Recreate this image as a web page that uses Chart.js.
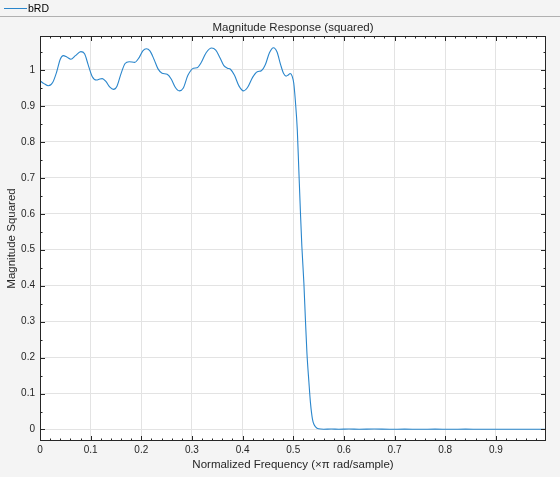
<!DOCTYPE html>
<html>
<head>
<meta charset="utf-8">
<script src="https://cdn.jsdelivr.net/npm/chart.js@4.4.1/dist/chart.umd.min.js"></script>
<style>
  html, body { margin: 0; padding: 0; background: #f4f4f4; }
  #wrap { position: relative; width: 560px; height: 477px; overflow: hidden; }
  #legend { position: absolute; left: 0; top: 0; width: 560px; height: 17px; border-bottom: 1px solid #b0b0b0; box-sizing: border-box; }
  #legend .sw { position: absolute; left: 4px; top: 8px; width: 23px; height: 0; border-top: 1px solid #2a86cc; }
  #legend .lb { position: absolute; left: 28px; top: 1px; font: 10.5px "Liberation Sans", Arial, sans-serif; color: #000; line-height: 14px; }
  canvas { position: absolute; left: 0; top: 0; }
</style>
</head>
<body>
<div id="wrap">
  <canvas id="c" width="560" height="477"></canvas>
  <div id="legend"><div class="sw"></div><div class="lb">bRD</div></div>
</div>
<script>
// ---- data ----
const seriesName = 'bRD';
const freq = [
  0, 0.008, 0.0165, 0.025, 0.033, 0.040, 0.046, 0.053, 0.061, 0.070, 0.0806, 0.088, 0.095,
  0.103, 0.1115, 0.118, 0.123, 0.130, 0.138, 0.145, 0.152, 0.160, 0.168, 0.176, 0.187,
  0.196, 0.203, 0.210, 0.217, 0.225, 0.233, 0.241, 0.251, 0.259, 0.267, 0.275, 0.283,
  0.292, 0.303, 0.310, 0.318, 0.328, 0.339, 0.347, 0.355, 0.363, 0.370, 0.376, 0.384,
  0.393, 0.402, 0.410, 0.420, 0.429, 0.437, 0.445, 0.453, 0.461, 0.468, 0.475, 0.481,
  0.486, 0.490, 0.494, 0.498, 0.501, 0.504, 0.508, 0.511, 0.514, 0.517, 0.521, 0.524,
  0.527, 0.531, 0.534, 0.538, 0.541, 0.544, 0.550, 0.560, 0.575, 0.590, 0.610, 0.630,
  0.660, 0.690, 0.720, 0.750, 0.780, 0.810, 0.840, 0.870, 0.900, 0.930, 0.960, 0.999
];
const magSq = [
  0.970, 0.962, 0.956, 0.965, 0.995, 1.030, 1.040, 1.036, 1.030, 1.040, 1.051, 1.045, 1.015,
  0.982, 0.972, 0.975, 0.976, 0.968, 0.952, 0.946, 0.955, 0.990, 1.018, 1.023, 1.021,
  1.035, 1.053, 1.059, 1.053, 1.030, 1.003, 0.991, 0.988, 0.975, 0.952, 0.942, 0.950,
  0.985, 1.005, 1.006, 1.020, 1.048, 1.061, 1.055, 1.035, 1.012, 1.005, 1.002, 0.985,
  0.955, 0.942, 0.952, 0.980, 0.995, 0.998, 1.015, 1.048, 1.062, 1.050, 1.015, 0.990,
  0.983, 0.986, 0.990, 0.982, 0.963, 0.917, 0.833, 0.722, 0.611, 0.509, 0.407, 0.306,
  0.213, 0.130, 0.074, 0.028, 0.014, 0.0075, 0.002, 0.0008, 0.0015, 0.0008, 0.0014, 0.0007,
  0.0012, 0.0006, 0.0011, 0.0006, 0.0010, 0.0005, 0.0009, 0.0005, 0.0008, 0.0005, 0.0007, 0.0005
];
const xTickValues = [0, 0.1, 0.2, 0.3, 0.4, 0.5, 0.6, 0.7, 0.8, 0.9];
const xTickLabels = ['0', '0.1', '0.2', '0.3', '0.4', '0.5', '0.6', '0.7', '0.8', '0.9'];
const yTickValues = [0, 0.1, 0.2, 0.3, 0.4, 0.5, 0.6, 0.7, 0.8, 0.9, 1];
const yTickLabels = ['0', '0.1', '0.2', '0.3', '0.4', '0.5', '0.6', '0.7', '0.8', '0.9', '1'];
const titleText = 'Magnitude Response (squared)';
const xTitle = 'Normalized Frequency (\u00d7\u03c0 rad/sample)';
const yTitle = 'Magnitude Squared';

// ---- styles ----
const FONT = '"Liberation Sans", Arial, sans-serif';
const AXIS = '#262626';
const GRID = '#e3e3e3';
const LINE = '#2a86cc';
const X_MIN = 0, X_MAX = 0.999, Y_MIN = -0.032, Y_MAX = 1.0945;
const X_MINOR = 0.02, Y_MINOR = 0.05;

const points = freq.map((f, i) => ({ x: f, y: magSq[i] }));

const framePlugin = {
  id: 'frame',
  beforeDraw(chart) {
    const { ctx, chartArea: a } = chart;
    ctx.save();
    ctx.fillStyle = '#ffffff';
    ctx.fillRect(a.left, a.top, a.right - a.left, a.bottom - a.top);
    ctx.restore();
  },
  afterDraw(chart) {
    const { ctx, chartArea: a, scales } = chart;
    const xs = scales.x, ys = scales.y;
    ctx.save();
    ctx.strokeStyle = AXIS;
    ctx.lineWidth = 1;
    ctx.strokeRect(Math.round(a.left) + 0.5, Math.round(a.top) + 0.5,
                   Math.round(a.right - a.left) - 1, Math.round(a.bottom - a.top) - 1);
    ctx.beginPath();
    const nx = Math.round((X_MAX - X_MIN) / X_MINOR);
    for (let i = 0; i <= nx; i++) {
      const v = X_MIN + i * X_MINOR;
      if (v > X_MAX) break;
      const major = Math.abs(v * 10 - Math.round(v * 10)) < 1e-6;
      const len = major ? 5 : 2.5;
      const px = Math.round(xs.getPixelForValue(v)) + 0.5;
      ctx.moveTo(px, a.bottom); ctx.lineTo(px, a.bottom - len);
      ctx.moveTo(px, a.top); ctx.lineTo(px, a.top + len);
    }
    const y0 = Math.ceil(Y_MIN / Y_MINOR) * Y_MINOR;
    for (let v = y0; v <= Y_MAX + 1e-9; v += Y_MINOR) {
      const major = Math.abs(v * 10 - Math.round(v * 10)) < 1e-6;
      const len = major ? 5 : 2.5;
      const py = Math.round(ys.getPixelForValue(v)) + 0.5;
      ctx.moveTo(a.left, py); ctx.lineTo(a.left + len, py);
      ctx.moveTo(a.right, py); ctx.lineTo(a.right - len, py);
    }
    ctx.stroke();
    ctx.fillStyle = AXIS;
    ctx.font = '11.5px ' + FONT;
    ctx.textAlign = 'center';
    ctx.textBaseline = 'middle';
    ctx.fillText(titleText, (a.left + a.right) / 2, 28);
    ctx.restore();
  }
};

new Chart(document.getElementById('c'), {
  type: 'line',
  data: {
    datasets: [{
      label: seriesName,
      data: points,
      borderColor: LINE,
      borderWidth: 1.1,
      pointRadius: 0,
      fill: false,
      cubicInterpolationMode: 'monotone'
    }]
  },
  options: {
    responsive: false,
    animation: false,
    devicePixelRatio: 1,
    layout: { padding: { top: 36, right: 14, left: 0, bottom: 0 } },
    plugins: { legend: { display: false }, title: { display: false }, tooltip: { enabled: false } },
    scales: {
      x: {
        type: 'linear', min: X_MIN, max: X_MAX,
        afterBuildTicks: s => { s.ticks = xTickValues.map(v => ({ value: v })); },
        afterFit: s => { s.height = 36; },
        ticks: { callback: (v, i) => xTickLabels[i], color: AXIS, font: { family: FONT, size: 10 }, padding: 3, maxRotation: 0, autoSkip: false },
        grid: { color: GRID, drawTicks: false, lineWidth: 1 },
        border: { display: false },
        title: { display: true, text: xTitle, color: AXIS, font: { family: FONT, size: 11.5 }, padding: { top: 2, bottom: 5 } }
      },
      y: {
        type: 'linear', min: Y_MIN, max: Y_MAX,
        afterBuildTicks: s => { s.ticks = yTickValues.map(v => ({ value: v })); },
        afterFit: s => { s.width = 40; },
        ticks: { callback: (v, i) => yTickLabels[i], color: AXIS, font: { family: FONT, size: 10 }, padding: 5, autoSkip: false },
        grid: { color: GRID, drawTicks: false, lineWidth: 1 },
        border: { display: false },
        title: { display: true, text: yTitle, color: AXIS, font: { family: FONT, size: 11.5 }, padding: { top: 5, bottom: 0 } }
      }
    }
  },
  plugins: [framePlugin]
});
</script>
</body>
</html>
